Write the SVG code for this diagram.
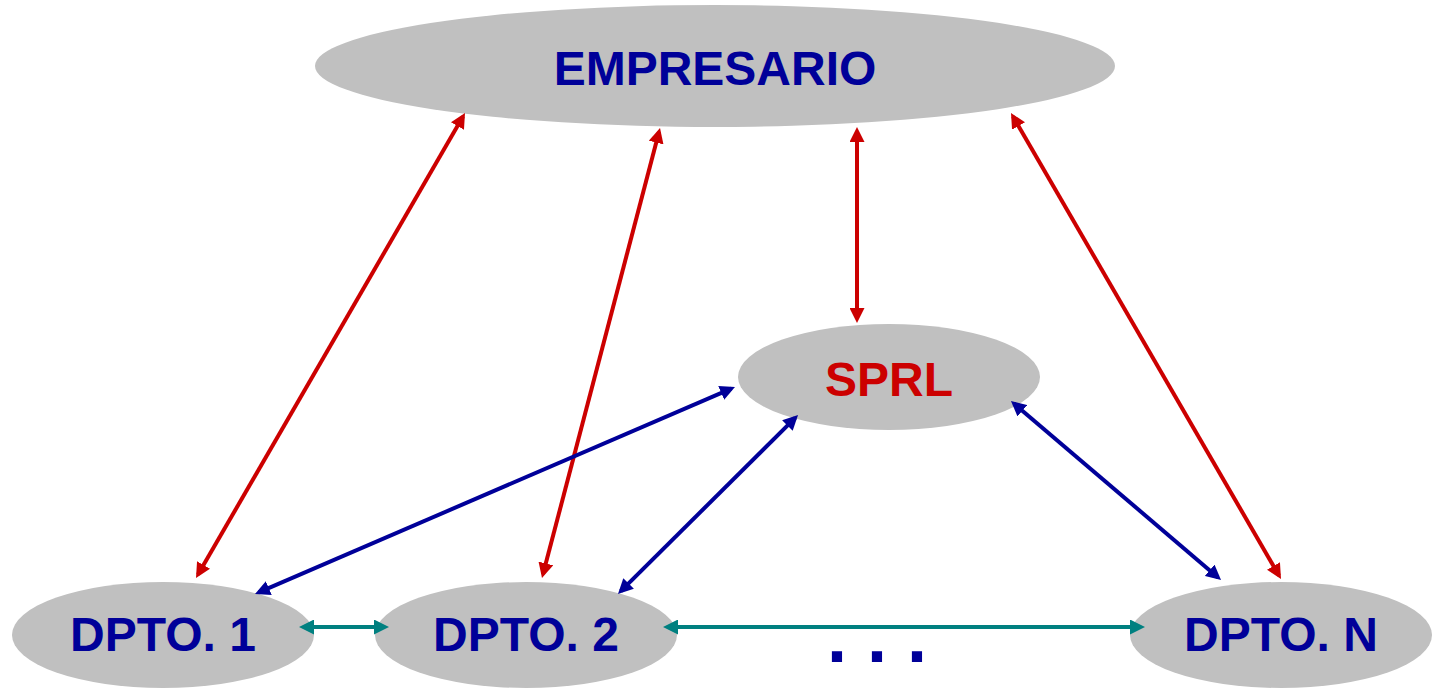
<svg xmlns="http://www.w3.org/2000/svg" width="1441" height="693" viewBox="0 0 1441 693">
<style>
.node{fill:#C0C0C0}
.lbl{font-family:"Liberation Sans",Arial,sans-serif;font-weight:bold;font-size:48px;text-anchor:middle;fill:#000099}
.red{stroke:#CC0000;stroke-width:4;fill:none;marker-start:url(#mr);marker-end:url(#mr)}
.blue{stroke:#000099;stroke-width:4;fill:none;marker-start:url(#mb);marker-end:url(#mb)}
.teal{stroke:#008080;stroke-width:4;fill:none;marker-start:url(#mt);marker-end:url(#mt)}
</style>
<defs>
<marker id="mr" viewBox="0 0 15 15" refX="11" refY="7.5" markerWidth="15" markerHeight="15" markerUnits="userSpaceOnUse" orient="auto-start-reverse"><path d="M0,0 L15,7.5 L0,15 z" fill="#CC0000"/></marker>
<marker id="mb" viewBox="0 0 15 15" refX="11" refY="7.5" markerWidth="15" markerHeight="15" markerUnits="userSpaceOnUse" orient="auto-start-reverse"><path d="M0,0 L15,7.5 L0,15 z" fill="#000099"/></marker>
<marker id="mt" viewBox="0 0 15 15" refX="11" refY="7.5" markerWidth="15" markerHeight="15" markerUnits="userSpaceOnUse" orient="auto-start-reverse"><path d="M0,0 L15,7.5 L0,15 z" fill="#008080"/></marker>
</defs>
<rect width="1441" height="693" fill="#FFFFFF"/>
<g id="empresario"><ellipse class="node" cx="715" cy="66" rx="400" ry="61"/><text class="lbl" x="715" y="85">EMPRESARIO</text></g>
<g id="sprl"><ellipse class="node" cx="889" cy="377" rx="151" ry="53"/><text class="lbl" x="889" y="396" style="fill:#CC0000">SPRL</text></g>
<g id="dpto1"><ellipse class="node" cx="163" cy="635" rx="151" ry="53"/><text class="lbl" x="163" y="651">DPTO. 1</text></g>
<g id="dpto2"><ellipse class="node" cx="526" cy="635" rx="151" ry="53"/><text class="lbl" x="526" y="651">DPTO. 2</text></g>
<g id="dptoN"><ellipse class="node" cx="1281" cy="635" rx="151" ry="53"/><text class="lbl" x="1281" y="651">DPTO. N</text></g>
<g id="connectors">
<line class="red" x1="198" y1="574.5" x2="463" y2="116.5"/>
<line class="red" x1="543" y1="574.1" x2="659" y2="131.9"/>
<line class="red" x1="857" y1="131" x2="857" y2="319"/>
<line class="red" x1="1013" y1="116.5" x2="1279" y2="575.5"/>
<line class="blue" x1="258.7" y1="592.4" x2="731.3" y2="388.6"/>
<line class="blue" x1="620.8" y1="591.2" x2="795.2" y2="417.8"/>
<line class="blue" x1="1014" y1="403.6" x2="1218" y2="577.4"/>
<line class="teal" x1="303" y1="627" x2="385" y2="627"/>
<line class="teal" x1="667" y1="627" x2="1141" y2="627"/>
</g>
<text class="lbl" x="877" y="662" style="font-size:72px">. . .</text>
</svg>
